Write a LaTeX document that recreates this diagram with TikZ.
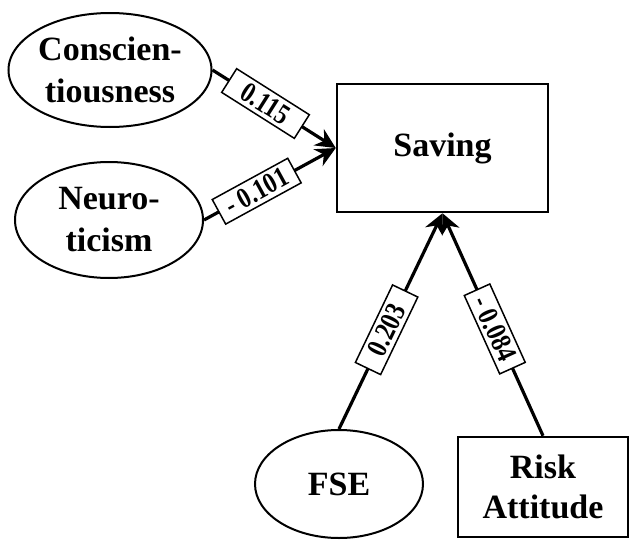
\documentclass[tikz,border=0pt]{standalone}
\usepackage{fontspec}
\setmainfont{Liberation Serif}
\usetikzlibrary{shapes.geometric,arrows.meta}
\newcommand{\coeftext}[1]{\scalebox{1}[1.2]{#1}}
\begin{document}
\begin{tikzpicture}[x=1pt,y=-1pt,
  latent/.style={ellipse,draw,line width=2pt,fill=white,inner sep=0pt,align=center,
    font=\fontsize{34}{42}\selectfont\bfseries},
  observed/.style={rectangle,draw,line width=2.5pt,fill=white,inner sep=0pt,align=center,
    font=\fontsize{34}{40}\selectfont\bfseries},
  pathway/.style={line width=3.2pt,-{Stealth[length=20pt,width=19pt]}},
  coef/.style={rectangle,draw,line width=1.5pt,fill=white,minimum width=86pt,
    minimum height=28pt,inner sep=1pt,sloped,font=\fontsize{24}{26}\selectfont\bfseries}
]
\useasboundingbox (0,0) rectangle (630,541);
\fill[white] (0,0) rectangle (630,541);

% constructs
\node[latent,minimum width=190pt,minimum height=114pt] (cons) at (110,70) {Conscien-\\tiousness};
\node[latent,minimum width=188pt,minimum height=116pt] (neur) at (109,220) {Neuro-\\ticism};
\node[observed,minimum width=211pt,minimum height=128pt] (sav) at (442.5,148) {Saving};
\node[latent,minimum width=168pt,minimum height=108pt] (fse) at (339,484) {FSE};
\node[observed,minimum width=170pt,minimum height=100pt] (risk) at (543,487) {Risk\\Attitude};

% structural paths with coefficients
\draw[pathway] (cons.east) -- node[coef,pos=0.43] {\coeftext{0.115}} (sav.west);
\draw[pathway] (neur.east) -- node[coef,pos=0.4] {\coeftext{- 0.101}} (sav.west);
\draw[pathway] (fse.north) -- node[coef,pos=0.46] {\coeftext{0.203}} (sav.south);
\draw[pathway] (risk.north) -- node[coef,pos=0.48] {\coeftext{- 0.084}} (sav.south);
\end{tikzpicture}
\end{document}
